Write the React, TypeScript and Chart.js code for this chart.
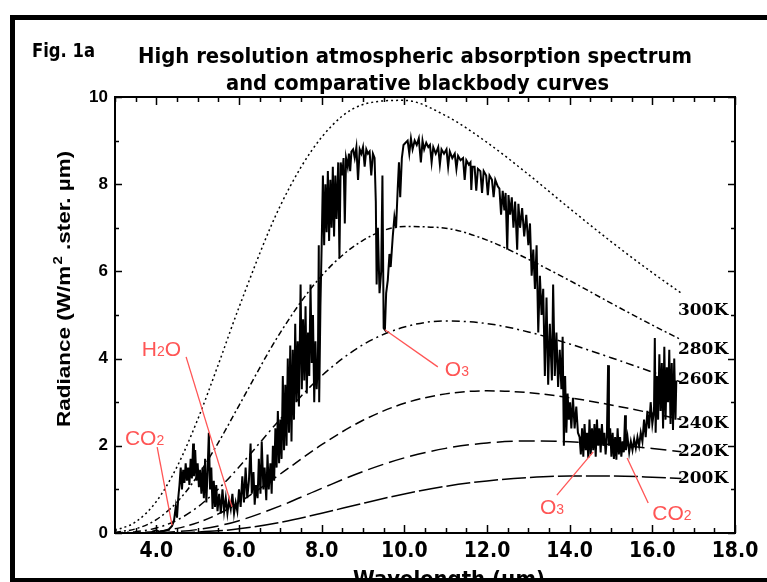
import { useEffect, useRef } from "react";
import { Chart, registerables } from "chart.js";

Chart.register(...registerables);

// ---------- DATA ----------
// Wavelengths (µm) at which blackbody curves were read
const wavelengths = [3, 3.5, 4, 4.5, 5, 5.5, 6, 7, 8, 9, 10, 11, 12, 13, 14, 15, 16, 16.7];
const bb300 = [0.056, 0.254, 0.722, 1.518, 2.602, 3.865, 5.176, 7.508, 9.078, 9.829, 9.923, 9.572, 8.958, 8.225, 7.444, 6.685, 5.971, 5.5];
const bb280 = [0.018, 0.095, 0.307, 0.709, 1.312, 2.073, 2.924, 4.598, 5.901, 6.712, 7.028, 6.99, 6.717, 6.279, 5.79, 5.272, 4.769, 4.432];
const bb260 = [0.005, 0.031, 0.114, 0.295, 0.595, 1.011, 1.513, 2.614, 3.605, 4.318, 4.724, 4.864, 4.804, 4.612, 4.336, 4.021, 3.692, 3.462];
const bb240 = [0.001, 0.008, 0.036, 0.106, 0.237, 0.437, 0.701, 1.353, 2.025, 2.585, 2.975, 3.191, 3.261, 3.22, 3.102, 2.937, 2.745, 2.603];
const bb220 = [0.0, 0.002, 0.009, 0.031, 0.08, 0.162, 0.283, 0.621, 1.024, 1.41, 1.723, 1.941, 2.066, 2.11, 2.092, 2.03, 1.939, 1.864];
const bb200 = [0.0, 0.0, 0.002, 0.007, 0.022, 0.049, 0.095, 0.244, 0.452, 0.682, 0.895, 1.07, 1.195, 1.272, 1.307, 1.307, 1.281, 1.252];

const tempLabels = ["300K", "280K", "260K", "240K", "220K", "200K"];

// Measured spectrum: [wavelength µm, radiance]
const spectrum: [number, number][] = [
  [3.9, 0.03], [4.0, 0.06], [4.1, 0.02], [4.2, 0.05], [4.3, 0.08], [4.38, 0.16], [4.43, 0.3], [4.47, 0.6], [4.5, 0.35], [4.53, 0.8],
  [4.56, 1.1], [4.59, 1.5], [4.62, 1.0], [4.65, 1.45], [4.68, 1.15], [4.71, 1.6], [4.74, 1.2], [4.77, 1.5], [4.8, 1.1], [4.83, 1.7],
  [4.86, 1.25], [4.89, 2.05], [4.91, 1.3], [4.94, 1.9], [4.97, 1.2], [5.0, 1.6], [5.03, 1.05], [5.06, 1.45], [5.09, 0.9], [5.12, 1.5],
  [5.15, 0.8], [5.18, 1.7], [5.21, 0.7], [5.24, 1.4], [5.27, 2.3], [5.3, 1.0], [5.33, 1.5], [5.36, 0.55], [5.39, 1.2], [5.42, 0.6],
  [5.45, 1.1], [5.48, 0.5], [5.52, 0.9], [5.56, 0.45], [5.6, 1.0], [5.64, 0.5], [5.68, 0.8], [5.72, 0.45], [5.76, 0.75], [5.8, 0.55],
  [5.84, 0.9], [5.88, 0.45], [5.92, 0.7], [5.96, 0.5], [6.0, 1.0], [6.04, 0.6], [6.08, 1.3], [6.12, 0.7], [6.16, 1.5], [6.2, 0.8],
  [6.24, 1.2], [6.28, 2.05], [6.31, 0.9], [6.35, 1.4], [6.38, 0.65], [6.41, 1.1], [6.45, 0.8], [6.48, 1.7], [6.52, 0.9], [6.55, 2.1],
  [6.59, 1.0], [6.62, 1.5], [6.66, 0.75], [6.69, 1.8], [6.72, 1.0], [6.76, 1.6], [6.79, 0.9], [6.82, 2.0], [6.85, 1.2], [6.88, 2.4],
  [6.91, 1.5], [6.94, 2.8], [6.97, 1.6], [7.0, 2.6], [7.03, 1.7], [7.06, 3.6], [7.09, 1.9], [7.12, 3.4], [7.15, 2.0], [7.18, 4.0],
  [7.21, 2.3], [7.24, 4.3], [7.27, 2.1], [7.3, 4.2], [7.33, 2.6], [7.36, 4.8], [7.39, 3.0], [7.42, 4.4], [7.45, 2.9], [7.49, 5.7],
  [7.52, 3.3], [7.55, 4.9], [7.58, 3.5], [7.61, 5.2], [7.64, 3.2], [7.67, 4.6], [7.7, 3.6], [7.73, 5.7], [7.76, 3.9], [7.79, 5.0],
  [7.82, 3.0], [7.85, 4.4], [7.88, 3.3], [7.91, 4.0], [7.93, 6.6], [7.94, 3.0], [7.97, 5.2], [8.0, 6.6], [8.03, 8.2], [8.06, 6.6],
  [8.09, 8.0], [8.12, 6.9], [8.15, 8.3], [8.18, 6.7], [8.21, 8.1], [8.24, 7.0], [8.27, 8.4], [8.3, 6.8], [8.33, 8.2], [8.36, 7.2],
  [8.4, 8.5], [8.43, 6.3], [8.46, 8.5], [8.5, 8.2], [8.53, 8.6], [8.56, 7.1], [8.59, 8.6], [8.63, 8.4], [8.66, 8.7], [8.69, 8.3],
  [8.72, 8.75], [8.76, 8.8], [8.8, 8.6], [8.84, 8.85], [8.88, 8.1], [8.92, 8.8], [8.96, 8.7], [9.0, 8.85], [9.04, 8.4], [9.08, 8.8],
  [9.12, 8.7], [9.16, 8.75], [9.2, 8.2], [9.24, 8.7], [9.28, 8.6], [9.31, 7.6], [9.33, 5.7], [9.36, 7.0], [9.4, 5.5], [9.44, 6.0],
  [9.47, 8.2], [9.5, 4.7], [9.53, 4.66], [9.56, 5.5], [9.6, 5.8], [9.64, 6.4], [9.67, 6.1], [9.72, 6.8], [9.76, 7.25], [9.8, 7.0],
  [9.84, 7.9], [9.87, 8.5], [9.9, 7.7], [9.94, 8.6], [9.98, 8.9], [10.03, 8.95], [10.08, 9.0], [10.12, 8.7], [10.16, 9.05], [10.2, 8.8],
  [10.25, 9.0], [10.3, 8.9], [10.35, 9.05], [10.4, 8.5], [10.44, 9.0], [10.48, 8.8], [10.53, 8.95], [10.58, 8.85], [10.62, 8.9], [10.66, 8.5],
  [10.7, 8.85], [10.76, 8.7], [10.82, 8.85], [10.86, 8.45], [10.9, 8.8], [10.96, 8.7], [11.02, 8.8], [11.06, 8.4], [11.1, 8.75], [11.16, 8.6],
  [11.22, 8.7], [11.26, 8.35], [11.3, 8.65], [11.36, 8.55], [11.42, 8.6], [11.46, 8.1], [11.5, 8.55], [11.56, 8.45], [11.6, 8.5], [11.62, 7.87],
  [11.65, 8.4], [11.7, 8.4], [11.74, 7.85], [11.78, 8.35], [11.84, 8.3], [11.88, 7.8], [11.92, 8.3], [11.98, 8.2], [12.02, 7.75], [12.06, 8.2],
  [12.12, 8.1], [12.16, 7.7], [12.2, 8.1], [12.26, 7.95], [12.3, 7.9], [12.34, 7.3], [12.38, 7.85], [12.42, 7.4], [12.45, 7.8], [12.49, 6.5],
  [12.52, 7.75], [12.56, 7.3], [12.6, 7.7], [12.64, 7.0], [12.68, 7.6], [12.73, 6.5], [12.76, 7.55], [12.8, 7.0], [12.85, 7.45], [12.9, 6.8],
  [12.95, 7.3], [13.0, 6.6], [13.04, 7.1], [13.08, 5.9], [13.12, 6.5], [13.16, 5.6], [13.2, 6.6], [13.24, 4.6], [13.28, 5.9], [13.32, 5.0],
  [13.36, 5.6], [13.4, 3.6], [13.44, 5.4], [13.48, 3.4], [13.52, 4.8], [13.57, 3.5], [13.6, 5.7], [13.64, 3.6], [13.68, 4.6], [13.72, 3.35],
  [13.76, 4.2], [13.8, 3.3], [13.83, 4.5], [13.86, 2.0], [13.89, 3.6], [13.92, 2.3], [13.95, 3.2], [13.98, 2.6], [14.01, 3.0], [14.04, 2.4],
  [14.08, 3.1], [14.12, 2.4], [14.16, 2.9], [14.2, 2.3], [14.24, 2.2], [14.27, 1.8], [14.3, 2.4], [14.33, 1.75], [14.36, 2.5], [14.39, 1.9],
  [14.42, 2.3], [14.45, 1.72], [14.48, 2.6], [14.51, 1.8], [14.54, 2.4], [14.57, 1.9], [14.6, 2.5], [14.63, 1.75], [14.66, 2.6], [14.69, 2.0],
  [14.72, 2.4], [14.75, 1.85], [14.78, 2.5], [14.81, 2.0], [14.84, 2.3], [14.87, 1.8], [14.9, 2.2], [14.93, 3.85], [14.95, 2.0], [14.98, 2.4],
  [15.01, 1.75], [15.04, 2.3], [15.07, 1.7], [15.1, 2.2], [15.13, 1.68], [15.16, 2.4], [15.19, 1.8], [15.22, 2.2], [15.25, 1.75], [15.28, 2.1],
  [15.31, 1.85], [15.34, 2.7], [15.36, 1.9], [15.4, 2.2], [15.44, 1.85], [15.48, 2.1], [15.52, 1.9], [15.56, 2.15], [15.6, 1.95], [15.64, 2.2],
  [15.68, 2.0], [15.72, 2.3], [15.76, 2.1], [15.8, 2.6], [15.84, 2.2], [15.88, 2.8], [15.92, 2.4], [15.96, 3.0], [16.0, 2.5], [16.04, 2.8],
  [16.06, 4.47], [16.08, 2.3], [16.11, 3.6], [16.14, 2.6], [16.17, 4.1], [16.2, 2.8], [16.23, 3.9], [16.26, 2.4], [16.29, 4.27], [16.32, 2.6],
  [16.35, 3.8], [16.38, 3.0], [16.41, 4.2], [16.44, 2.5], [16.47, 3.9], [16.5, 2.36], [16.53, 4.0], [16.56, 2.6], [16.58, 3.5],
];

// Red annotations, positions in data units (wavelength, radiance)
const annotations = [
  { main: "CO", sub: "2", tail: "", at: [3.24, 2.02], from: [4.02, 1.97], to: [4.38, 0.18] },
  { main: "H", sub: "2", tail: "O", at: [3.65, 4.06], from: [4.72, 4.04], to: [5.83, 0.6] },
  { main: "O", sub: "3", tail: "", at: [10.98, 3.6], from: [9.53, 4.66], to: [10.81, 3.81] },
  { main: "O", sub: "3", tail: "", at: [13.28, 0.44], from: [13.69, 0.87], to: [14.57, 1.86] },
  { main: "CO", sub: "2", tail: "", at: [16.0, 0.3], from: [15.39, 1.72], to: [15.9, 0.69] },
];
const tempLabelAt = { x: 16.62, y: [5.11, 4.2, 3.53, 2.52, 1.86, 1.24] };

// ---------- STYLE ----------
const NARROW = "'Liberation Sans Narrow', 'DejaVu Sans Condensed', 'Arial Narrow', sans-serif";
const SANS = "'Liberation Sans', Arial, sans-serif";
const RED = "#ff5555";

function fitText(ctx: CanvasRenderingContext2D, text: string, x: number, y: number, width: number, font: string) {
  ctx.font = font;
  const w = ctx.measureText(text).width;
  ctx.save();
  ctx.translate(x, y);
  ctx.scale(width / w, 1);
  ctx.textAlign = "left";
  ctx.textBaseline = "alphabetic";
  ctx.fillText(text, 0, 0);
  ctx.restore();
}

const decorPlugin = {
  id: "decor",
  afterDraw(chart: any) {
    const ctx: CanvasRenderingContext2D = chart.ctx;
    const xs = chart.scales.x;
    const ys = chart.scales.y;
    const { left, right, top, bottom } = chart.chartArea;
    ctx.save();
    ctx.fillStyle = "#000";
    ctx.strokeStyle = "#000";

    // plot frame
    ctx.lineWidth = 2;
    ctx.strokeRect(left, top, right - left, bottom - top);

    // inward ticks
    ctx.lineWidth = 1.5;
    ctx.beginPath();
    for (let v = 3; v <= 18.001; v += 0.5) {
      const p = Math.round(xs.getPixelForValue(v)) + 0.5;
      const len = Math.abs(v % 2) < 1e-6 ? 8 : 5;
      ctx.moveTo(p, bottom); ctx.lineTo(p, bottom - len);
      ctx.moveTo(p, top); ctx.lineTo(p, top + len);
    }
    for (let v = 0; v <= 10.001; v += 1) {
      const p = Math.round(ys.getPixelForValue(v)) + 0.5;
      const len = v % 2 === 0 ? 7 : 4;
      ctx.moveTo(left, p); ctx.lineTo(left + len, p);
      ctx.moveTo(right, p); ctx.lineTo(right - len, p);
    }
    ctx.stroke();

    // temperature labels
    ctx.font = "bold 17px 'DejaVu Serif', 'Liberation Serif', serif";
    ctx.textAlign = "left";
    ctx.textBaseline = "middle";
    tempLabels.forEach((t, i) => {
      ctx.fillText(t, xs.getPixelForValue(tempLabelAt.x), ys.getPixelForValue(tempLabelAt.y[i]));
    });

    // red annotations
    ctx.strokeStyle = RED;
    ctx.fillStyle = RED;
    ctx.lineWidth = 1.3;
    ctx.textBaseline = "alphabetic";
    annotations.forEach((a) => {
      ctx.beginPath();
      ctx.moveTo(xs.getPixelForValue(a.from[0]), ys.getPixelForValue(a.from[1]));
      ctx.lineTo(xs.getPixelForValue(a.to[0]), ys.getPixelForValue(a.to[1]));
      ctx.stroke();
      let x = xs.getPixelForValue(a.at[0]);
      const y = ys.getPixelForValue(a.at[1]);
      ctx.font = `21px ${SANS}`;
      ctx.fillText(a.main, x, y);
      x += ctx.measureText(a.main).width;
      ctx.font = `14px ${SANS}`;
      ctx.fillText(a.sub, x, y);
      x += ctx.measureText(a.sub).width;
      if (a.tail) {
        ctx.font = `21px ${SANS}`;
        ctx.fillText(a.tail, x, y);
      }
    });

    // titles
    ctx.fillStyle = "#000";
    fitText(ctx, "Fig. 1a", 32, 57, 63, `bold 19px ${NARROW}`);
    fitText(ctx, "High resolution atmospheric absorption spectrum", 138, 63, 554, `bold 22px ${NARROW}`);
    fitText(ctx, "and comparative blackbody curves", 226, 90, 383, `bold 22px ${NARROW}`);
    fitText(ctx, "Wavelength (\u00b5m)", 353, 586, 192, `bold 22px ${NARROW}`);

    // y-axis title, rotated
    const mainF = `bold 18px ${SANS}`;
    const supF = `bold 12px ${SANS}`;
    const p1 = "Radiance (W/m";
    const p2 = "2";
    const p3 = " .ster. \u00b5m)";
    ctx.font = mainF; const w1 = ctx.measureText(p1).width; const w3 = ctx.measureText(p3).width;
    ctx.font = supF; const w2 = ctx.measureText(p2).width;
    const total = w1 + w2 + w3;
    ctx.save();
    ctx.translate(70, 427);
    ctx.rotate(-Math.PI / 2);
    ctx.scale(275 / total, 1);
    ctx.textAlign = "left";
    ctx.font = mainF; ctx.fillText(p1, 0, 0);
    ctx.font = supF; ctx.fillText(p2, w1 + 1, -8);
    ctx.font = mainF; ctx.fillText(p3, w1 + w2 + 1, 0);
    ctx.restore();

    // outer frame
    ctx.fillStyle = "#000";
    ctx.fillRect(10, 15, 757, 5);
    ctx.fillRect(10, 15, 5, 567);
    ctx.fillRect(10, 578, 757, 4);

    ctx.restore();
  },
};

function curve(values: number[]) {
  return wavelengths.map((w, i) => ({ x: w, y: values[i] }));
}

export default function App() {
  const ref = useRef<HTMLCanvasElement>(null);
  useEffect(() => {
    const base = { pointRadius: 0, fill: false, borderColor: "#000", borderWidth: 1.5, cubicInterpolationMode: "monotone" as const };
    const chart = new Chart(ref.current as HTMLCanvasElement, {
      type: "line",
      data: {
        datasets: [
          { label: "spectrum", data: spectrum.map(([x, y]) => ({ x, y })), pointRadius: 0, borderColor: "#000", borderWidth: 2, tension: 0, fill: false },
          { ...base, label: "300K", data: curve(bb300), borderDash: [2, 3] },
          { ...base, label: "280K", data: curve(bb280), borderDash: [6, 3, 2, 3] },
          { ...base, label: "260K", data: curve(bb260), borderDash: [8, 4, 2, 4] },
          { ...base, label: "240K", data: curve(bb240), borderDash: [10, 5] },
          { ...base, label: "220K", data: curve(bb220), borderDash: [16, 6] },
          { ...base, label: "200K", data: curve(bb200), borderDash: [24, 4] },
        ],
      },
      options: {
        responsive: false,
        devicePixelRatio: 1,
        animation: false,
        events: [],
        layout: { padding: { top: 97, right: 32, left: 0, bottom: 0 } },
        plugins: { legend: { display: false }, tooltip: { enabled: false }, title: { display: false } },
        scales: {
          x: {
            type: "linear",
            min: 3,
            max: 18,
            grid: { display: false, drawTicks: false },
            border: { display: false },
            afterFit: (s: any) => { s.height = 49; },
            ticks: {
              stepSize: 0.5,
              autoSkip: false,
              maxRotation: 0,
              color: "#000",
              padding: 6,
              font: { family: NARROW, size: 21, weight: "bold" },
              callback: (v: any) => (Math.abs(v % 2) < 1e-6 && v >= 4 ? Number(v).toFixed(1) : ""),
            },
          },
          y: {
            type: "linear",
            min: 0,
            max: 10,
            grid: { display: false, drawTicks: false },
            border: { display: false },
            afterFit: (s: any) => { s.width = 115; },
            ticks: {
              stepSize: 1,
              autoSkip: false,
              color: "#000",
              padding: 7,
              font: { family: SANS, size: 17, weight: "bold" },
              callback: (v: any) => (v % 2 === 0 ? String(v) : ""),
            },
          },
        },
      },
      plugins: [decorPlugin],
    } as any);
    return () => chart.destroy();
  }, []);
  return (
    <div style={{ position: "absolute", left: 0, top: 0, width: 767, height: 582, background: "#fff", overflow: "hidden" }}>
      <canvas ref={ref} width={767} height={582} style={{ display: "block", width: 767, height: 582 }} />
    </div>
  );
}
